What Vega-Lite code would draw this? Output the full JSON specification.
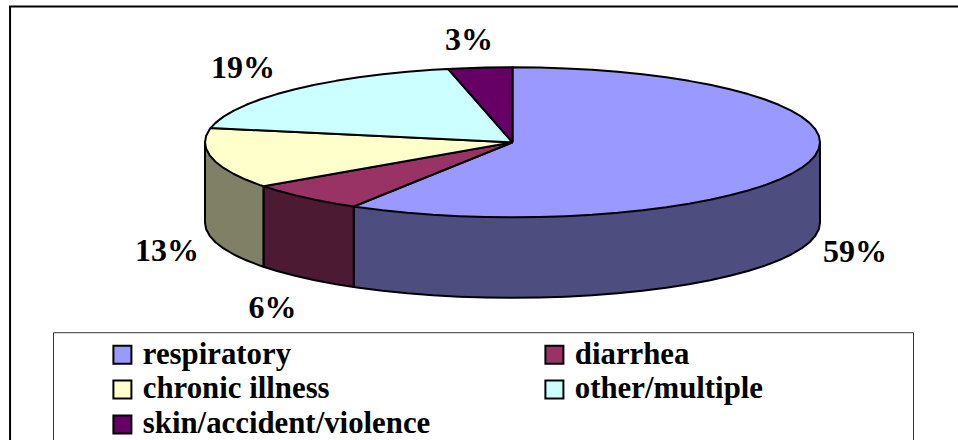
{
"$schema":"https://vega.github.io/schema/vega-lite/v6.json",
"width":958,"height":440,"padding":0,
"autosize":"none",
"background":"white",
"config":{"view":{"stroke":null}},
"datasets":{
"outline":[
{"part":"frame","seq":1,"x":-1.634,"y":-3.9693},{"part":"frame","seq":2,"x":-1.634,"y":1.811},{"part":"frame","seq":3,"x":1.4488,"y":1.811}],
"box":[
{"part":"box","seq":1,"x":-1.4927,"y":-3.9693},{"part":"box","seq":2,"x":-1.4927,"y":-2.539},{"part":"box","seq":3,"x":1.3041,"y":-2.539},{"part":"box","seq":4,"x":1.3041,"y":-3.9693}],
"side":[
{"slice":"respiratory","seq":0,"x":1,"y":0},
{"slice":"respiratory","seq":1,"x":1,"y":-1.0733},{"slice":"respiratory","seq":2,"x":0.9962,"y":-1.1605},{"slice":"respiratory","seq":3,"x":0.9848,"y":-1.2469},{"slice":"respiratory","seq":4,"x":0.9659,"y":-1.3321},{"slice":"respiratory","seq":5,"x":0.9397,"y":-1.4153},{"slice":"respiratory","seq":6,"x":0.9063,"y":-1.4959},{"slice":"respiratory","seq":7,"x":0.866,"y":-1.5733},{"slice":"respiratory","seq":8,"x":0.8192,"y":-1.6469},{"slice":"respiratory","seq":9,"x":0.766,"y":-1.7161},{"slice":"respiratory","seq":10,"x":0.7071,"y":-1.7804},{"slice":"respiratory","seq":11,"x":0.6428,"y":-1.8393},{"slice":"respiratory","seq":12,"x":0.5736,"y":-1.8925},{"slice":"respiratory","seq":13,"x":0.5,"y":-1.9393},{"slice":"respiratory","seq":14,"x":0.4226,"y":-1.9796},{"slice":"respiratory","seq":15,"x":0.342,"y":-2.013},{"slice":"respiratory","seq":16,"x":0.2588,"y":-2.0392},{"slice":"respiratory","seq":17,"x":0.1736,"y":-2.0581},{"slice":"respiratory","seq":18,"x":0.0872,"y":-2.0695},{"slice":"respiratory","seq":19,"x":0,"y":-2.0733},{"slice":"respiratory","seq":20,"x":-0.0872,"y":-2.0695},{"slice":"respiratory","seq":21,"x":-0.1736,"y":-2.0581},{"slice":"respiratory","seq":22,"x":-0.2588,"y":-2.0392},{"slice":"respiratory","seq":23,"x":-0.342,"y":-2.013},{"slice":"respiratory","seq":24,"x":-0.4226,"y":-1.9796},{"slice":"respiratory","seq":25,"x":-0.5,"y":-1.9393},{"slice":"respiratory","seq":26,"x":-0.5165,"y":-1.9296},{"slice":"respiratory","seq":27,"x":-0.5165,"y":-0.8563},{"slice":"respiratory","seq":28,"x":1,"y":0},
{"slice":"diarrhea","seq":0,"x":-0.5165,"y":-0.8563},{"slice":"diarrhea","seq":1,"x":-0.5165,"y":-1.9296},{"slice":"diarrhea","seq":2,"x":-0.5736,"y":-1.8925},{"slice":"diarrhea","seq":3,"x":-0.6428,"y":-1.8393},{"slice":"diarrhea","seq":4,"x":-0.7071,"y":-1.7804},{"slice":"diarrhea","seq":5,"x":-0.766,"y":-1.7161},{"slice":"diarrhea","seq":6,"x":-0.81,"y":-1.6597},{"slice":"diarrhea","seq":7,"x":-0.81,"y":-0.5864},{"slice":"diarrhea","seq":8,"x":-0.5165,"y":-0.8563},
{"slice":"chronic illness","seq":0,"x":-0.81,"y":-0.5864},{"slice":"chronic illness","seq":1,"x":-0.81,"y":-1.6597},{"slice":"chronic illness","seq":2,"x":-0.8192,"y":-1.6469},{"slice":"chronic illness","seq":3,"x":-0.866,"y":-1.5733},{"slice":"chronic illness","seq":4,"x":-0.9063,"y":-1.4959},{"slice":"chronic illness","seq":5,"x":-0.9397,"y":-1.4153},{"slice":"chronic illness","seq":6,"x":-0.9659,"y":-1.3321},{"slice":"chronic illness","seq":7,"x":-0.9848,"y":-1.2469},{"slice":"chronic illness","seq":8,"x":-0.9962,"y":-1.1605},{"slice":"chronic illness","seq":9,"x":-1,"y":-1.0733},{"slice":"chronic illness","seq":10,"x":-1,"y":0},{"slice":"chronic illness","seq":11,"x":-0.81,"y":-0.5864}
],
"top":[
{"slice":"respiratory","seq":0,"x":0,"y":0},{"slice":"respiratory","seq":1,"x":0,"y":1},{"slice":"respiratory","seq":2,"x":0.0872,"y":0.9962},{"slice":"respiratory","seq":3,"x":0.1736,"y":0.9848},{"slice":"respiratory","seq":4,"x":0.2588,"y":0.9659},{"slice":"respiratory","seq":5,"x":0.342,"y":0.9397},{"slice":"respiratory","seq":6,"x":0.4226,"y":0.9063},{"slice":"respiratory","seq":7,"x":0.5,"y":0.866},{"slice":"respiratory","seq":8,"x":0.5736,"y":0.8192},{"slice":"respiratory","seq":9,"x":0.6428,"y":0.766},{"slice":"respiratory","seq":10,"x":0.7071,"y":0.7071},{"slice":"respiratory","seq":11,"x":0.766,"y":0.6428},{"slice":"respiratory","seq":12,"x":0.8192,"y":0.5736},{"slice":"respiratory","seq":13,"x":0.866,"y":0.5},{"slice":"respiratory","seq":14,"x":0.9063,"y":0.4226},{"slice":"respiratory","seq":15,"x":0.9397,"y":0.342},{"slice":"respiratory","seq":16,"x":0.9659,"y":0.2588},{"slice":"respiratory","seq":17,"x":0.9848,"y":0.1736},{"slice":"respiratory","seq":18,"x":0.9962,"y":0.0872},{"slice":"respiratory","seq":19,"x":1,"y":0},{"slice":"respiratory","seq":20,"x":0.9962,"y":-0.0872},{"slice":"respiratory","seq":21,"x":0.9848,"y":-0.1736},{"slice":"respiratory","seq":22,"x":0.9659,"y":-0.2588},{"slice":"respiratory","seq":23,"x":0.9397,"y":-0.342},{"slice":"respiratory","seq":24,"x":0.9063,"y":-0.4226},{"slice":"respiratory","seq":25,"x":0.866,"y":-0.5},{"slice":"respiratory","seq":26,"x":0.8192,"y":-0.5736},{"slice":"respiratory","seq":27,"x":0.766,"y":-0.6428},{"slice":"respiratory","seq":28,"x":0.7071,"y":-0.7071},{"slice":"respiratory","seq":29,"x":0.6428,"y":-0.766},{"slice":"respiratory","seq":30,"x":0.5736,"y":-0.8192},{"slice":"respiratory","seq":31,"x":0.5,"y":-0.866},{"slice":"respiratory","seq":32,"x":0.4226,"y":-0.9063},{"slice":"respiratory","seq":33,"x":0.342,"y":-0.9397},{"slice":"respiratory","seq":34,"x":0.2588,"y":-0.9659},{"slice":"respiratory","seq":35,"x":0.1736,"y":-0.9848},{"slice":"respiratory","seq":36,"x":0.0872,"y":-0.9962},{"slice":"respiratory","seq":37,"x":0,"y":-1},{"slice":"respiratory","seq":38,"x":-0.0872,"y":-0.9962},{"slice":"respiratory","seq":39,"x":-0.1736,"y":-0.9848},{"slice":"respiratory","seq":40,"x":-0.2588,"y":-0.9659},{"slice":"respiratory","seq":41,"x":-0.342,"y":-0.9397},{"slice":"respiratory","seq":42,"x":-0.4226,"y":-0.9063},{"slice":"respiratory","seq":43,"x":-0.5,"y":-0.866},{"slice":"respiratory","seq":44,"x":-0.5165,"y":-0.8563},{"slice":"respiratory","seq":45,"x":0,"y":0},
{"slice":"diarrhea","seq":0,"x":0,"y":0},{"slice":"diarrhea","seq":1,"x":-0.5165,"y":-0.8563},{"slice":"diarrhea","seq":2,"x":-0.5736,"y":-0.8192},{"slice":"diarrhea","seq":3,"x":-0.6428,"y":-0.766},{"slice":"diarrhea","seq":4,"x":-0.7071,"y":-0.7071},{"slice":"diarrhea","seq":5,"x":-0.766,"y":-0.6428},{"slice":"diarrhea","seq":6,"x":-0.81,"y":-0.5864},{"slice":"diarrhea","seq":7,"x":0,"y":0},
{"slice":"chronic illness","seq":0,"x":0,"y":0},{"slice":"chronic illness","seq":1,"x":-0.81,"y":-0.5864},{"slice":"chronic illness","seq":2,"x":-0.8192,"y":-0.5736},{"slice":"chronic illness","seq":3,"x":-0.866,"y":-0.5},{"slice":"chronic illness","seq":4,"x":-0.9063,"y":-0.4226},{"slice":"chronic illness","seq":5,"x":-0.9397,"y":-0.342},{"slice":"chronic illness","seq":6,"x":-0.9659,"y":-0.2588},{"slice":"chronic illness","seq":7,"x":-0.9848,"y":-0.1736},{"slice":"chronic illness","seq":8,"x":-0.9962,"y":-0.0872},{"slice":"chronic illness","seq":9,"x":-1,"y":0},{"slice":"chronic illness","seq":10,"x":-0.9962,"y":0.0872},{"slice":"chronic illness","seq":11,"x":-0.9848,"y":0.1736},{"slice":"chronic illness","seq":12,"x":-0.9816,"y":0.1908},{"slice":"chronic illness","seq":13,"x":0,"y":0},
{"slice":"other/multiple","seq":0,"x":0,"y":0},{"slice":"other/multiple","seq":1,"x":-0.9816,"y":0.1908},{"slice":"other/multiple","seq":2,"x":-0.9659,"y":0.2588},{"slice":"other/multiple","seq":3,"x":-0.9397,"y":0.342},{"slice":"other/multiple","seq":4,"x":-0.9063,"y":0.4226},{"slice":"other/multiple","seq":5,"x":-0.866,"y":0.5},{"slice":"other/multiple","seq":6,"x":-0.8192,"y":0.5736},{"slice":"other/multiple","seq":7,"x":-0.766,"y":0.6428},{"slice":"other/multiple","seq":8,"x":-0.7071,"y":0.7071},{"slice":"other/multiple","seq":9,"x":-0.6428,"y":0.766},{"slice":"other/multiple","seq":10,"x":-0.5736,"y":0.8192},{"slice":"other/multiple","seq":11,"x":-0.5,"y":0.866},{"slice":"other/multiple","seq":12,"x":-0.4226,"y":0.9063},{"slice":"other/multiple","seq":13,"x":-0.342,"y":0.9397},{"slice":"other/multiple","seq":14,"x":-0.2588,"y":0.9659},{"slice":"other/multiple","seq":15,"x":-0.2096,"y":0.9778},{"slice":"other/multiple","seq":16,"x":0,"y":0},
{"slice":"skin/accident/violence","seq":0,"x":0,"y":0},{"slice":"skin/accident/violence","seq":1,"x":-0.2096,"y":0.9778},{"slice":"skin/accident/violence","seq":2,"x":-0.1736,"y":0.9848},{"slice":"skin/accident/violence","seq":3,"x":-0.0872,"y":0.9962},{"slice":"skin/accident/violence","seq":4,"x":0,"y":1},{"slice":"skin/accident/violence","seq":5,"x":0,"y":0}
],
"labels":[
{"slice":"respiratory","pct":"59%","x":1.1138,"y":-1.592},
{"slice":"diarrhea","pct":"6%","x":-0.7805,"y":-2.343},
{"slice":"chronic illness","pct":"13%","x":-1.1236,"y":-1.579},
{"slice":"other/multiple","pct":"19%","x":-0.8764,"y":0.857},
{"slice":"skin/accident/violence","pct":"3%","x":-0.1415,"y":1.231}
]
},
"encoding":{
"x":{"field":"x","type":"quantitative","axis":null,"scale":{"domain":[-1.6667,1.4488],"nice":false,"zero":false}},
"y":{"field":"y","type":"quantitative","axis":null,"scale":{"domain":[-3.9693,1.8973],"nice":false,"zero":false}}
},
"layer":[
{"data":{"name":"outline"},"mark":{"type":"line","stroke":"black","strokeWidth":2,"strokeJoin":"miter"},"encoding":{"order":{"field":"seq"}}},
{"data":{"name":"box"},"mark":{"type":"line","stroke":"#333333","strokeWidth":1,"strokeJoin":"miter"},"encoding":{"order":{"field":"seq"}}},
{"data":{"name":"side"},"mark":{"type":"line","filled":true,"stroke":"black","strokeWidth":2,"strokeJoin":"round"},
"encoding":{"order":{"field":"seq"},"fill":{"field":"slice","type":"nominal","legend":null,"scale":{"domain":["respiratory","diarrhea","chronic illness"],"range":["#4D4D80","#4D1A33","#808066"]}}}},
{"data":{"name":"top"},"mark":{"type":"line","filled":true,"stroke":"black","strokeWidth":2,"strokeJoin":"round"},
"encoding":{"order":{"field":"seq"},"fill":{"field":"slice","type":"nominal","scale":{"domain":["respiratory","diarrhea","chronic illness","other/multiple","skin/accident/violence"],"range":["#9999FF","#993366","#FFFFCC","#CCFFFF","#660066"]},
"legend":{"title":null,"orient":"none","direction":"horizontal","legendX":107,"legendY":339,"columns":2,"columnPadding":108,"rowPadding":3,"padding":0,"symbolType":"square","symbolSize":324,"symbolStrokeColor":"black","symbolStrokeWidth":2,"symbolFillColor":"white","symbolOpacity":1,"labelFont":"Liberation Serif","labelFontWeight":"bold","labelFontSize":30.8,"labelColor":"black","labelOffset":5,"labelLimit":400,"gridAlign":"each"}}}},
{"data":{"name":"labels"},"mark":{"type":"text","font":"Liberation Serif","fontWeight":"bold","fontSize":32,"align":"center","baseline":"alphabetic","color":"black"},"encoding":{"text":{"field":"pct"}}}
],
"resolve":{"scale":{"fill":"independent"}}
}
